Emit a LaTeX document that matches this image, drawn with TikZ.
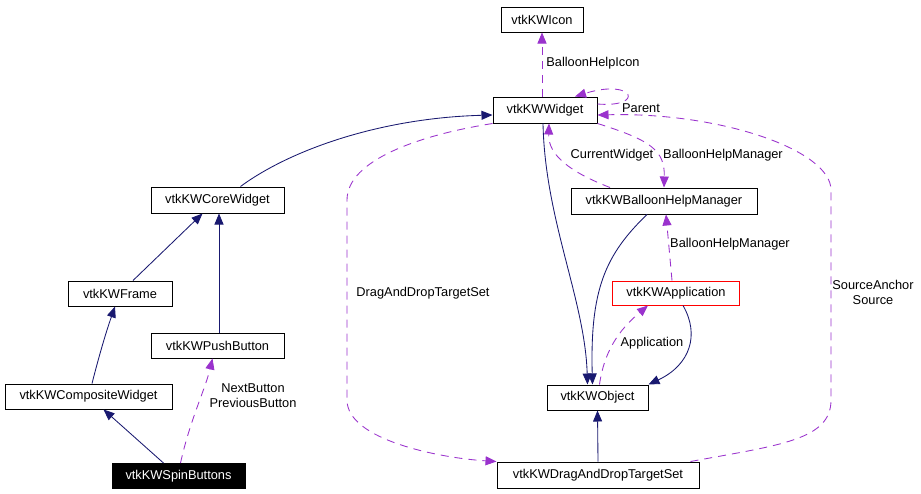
\documentclass[tikz,border=0pt]{standalone}
\usepackage{fontspec}
\setmainfont{Liberation Sans}
\usetikzlibrary{arrows.meta}
\definecolor{navy}{HTML}{191970}
\definecolor{purp}{HTML}{9A32CD}
\begin{document}
\begin{tikzpicture}[x=1pt,y=-1pt,
 cls/.style={draw=black, line width=1pt, inner sep=0pt, font=\fontsize{12.8}{15}\selectfont, fill=white},
 lbl/.style={font=\fontsize{12.8}{15}\selectfont, inner sep=0pt, align=center},
 inh/.style={draw=navy, line width=0.85pt, -{Triangle[length=11pt,width=9pt]}},
 use/.style={draw=purp, line width=0.85pt, dash pattern=on 8pt off 6pt, -{Triangle[length=11pt,width=9pt]}},
]
\useasboundingbox[fill=white] (0,0) rectangle (921,493);

% classes
\node[cls, minimum width=82pt, minimum height=25pt] (icon) at (542,19.5) {vtkKWIcon};
\node[cls, minimum width=104pt, minimum height=26pt] (widget) at (545,110) {vtkKWWidget};
\node[cls, minimum width=133pt, minimum height=26pt] (core) at (217.5,200) {vtkKWCoreWidget};
\node[cls, minimum width=186pt, minimum height=26pt] (bhm) at (664,201) {vtkKWBalloonHelpManager};
\node[cls, minimum width=104pt, minimum height=25pt] (frame) at (120,293.5) {vtkKWFrame};
\node[cls, draw=red, minimum width=127pt, minimum height=24pt] (app) at (676,293) {vtkKWApplication};
\node[cls, minimum width=133pt, minimum height=25pt] (push) at (217.5,345.5) {vtkKWPushButton};
\node[cls, minimum width=167pt, minimum height=25pt] (comp) at (88.5,396.5) {vtkKWCompositeWidget};
\node[cls, minimum width=101pt, minimum height=25pt] (obj) at (597.5,397.5) {vtkKWObject};
\node[cls, fill=black, text=white, minimum width=133pt, minimum height=25pt] (spin) at (178.5,476) {vtkKWSpinButtons};
\node[cls, minimum width=202pt, minimum height=26pt] (dnd) at (598,475) {vtkKWDragAndDropTargetSet};

% labels
\node[lbl] (lIcon) at (593,63) {BalloonHelpIcon};
\node[lbl] (lParent) at (641,108) {Parent};
\node[lbl] (lCur) at (612,155) {CurrentWidget};
\node[lbl] (lBhm1) at (723,155) {BalloonHelpManager};
\node[lbl] (lBhm2) at (730,244) {BalloonHelpManager};
\node[lbl] (lApp) at (652,343) {Application};
\node[lbl] (lDnd) at (423,293) {DragAndDropTargetSet};
\node[lbl] (lSrc) at (873,292) {SourceAnchor\\Source};
\node[lbl] (lBtn) at (253,396) {NextButton\\PreviousButton};

% inheritance (solid)
\draw[inh] ([xshift=23pt]core.north) .. controls (290,150) and (380,118) .. ([yshift=-5pt]widget.west);
\draw[inh] ([xshift=-2pt]widget.south) .. controls (545,220) and (585,300) .. ([xshift=-10pt]obj.north);
\draw[inh] ([xshift=-17pt]bhm.south) .. controls (605,255) and (590,290) .. ([xshift=-5pt]obj.north);
\draw[inh] ([xshift=7pt]app.south) .. controls (700,335) and (690,365) .. (obj.north east);
\draw[inh] (dnd.north) -- (obj.south);
\draw[inh] ([xshift=13pt]frame.north) -- ([xshift=-15pt]core.south);
\draw[inh] ([xshift=1.5pt]push.north) -- ([xshift=1.5pt]core.south);
\draw[inh] ([xshift=3.5pt]comp.north) .. controls (98,360) and (105,335) .. ([xshift=-5pt]frame.south);
\draw[inh] ([xshift=-15pt]spin.north) -- ([xshift=15pt]comp.south);

% usage (dashed)
\draw[use] ([xshift=-3pt]widget.north) -- (icon.south);
\draw[use] ([yshift=6pt]widget.east) .. controls (645,108) and (635,78) .. ([xshift=30pt]widget.north);
\draw[use] ([xshift=-9pt]dnd.north east) .. controls (780,445) and (831,440) .. (831,400) -- (831,190) .. controls (831,150) and (720,112) .. ([yshift=-5pt]widget.east);
\draw[use] (widget.south west) .. controls (420,135) and (347,160) .. (347,200) -- (347,400) .. controls (347,440) and (440,458) .. (dnd.north west);
\draw[use] ([xshift=-54pt]bhm.north) .. controls (570,172) and (548,155) .. ([xshift=4pt]widget.south);
\draw[use] (widget.south east) .. controls (650,140) and (665,150) .. (bhm.north);
\draw[use] ([xshift=-4pt]app.north) -- ([xshift=2pt]bhm.south);
\draw[use] ([xshift=2pt]obj.north) .. controls (605,345) and (625,325) .. ([xshift=-28pt]app.south);
\draw[use] ([xshift=2pt]spin.north) .. controls (190,420) and (205,390) .. ([xshift=-5pt]push.south);
\end{tikzpicture}
\end{document}
